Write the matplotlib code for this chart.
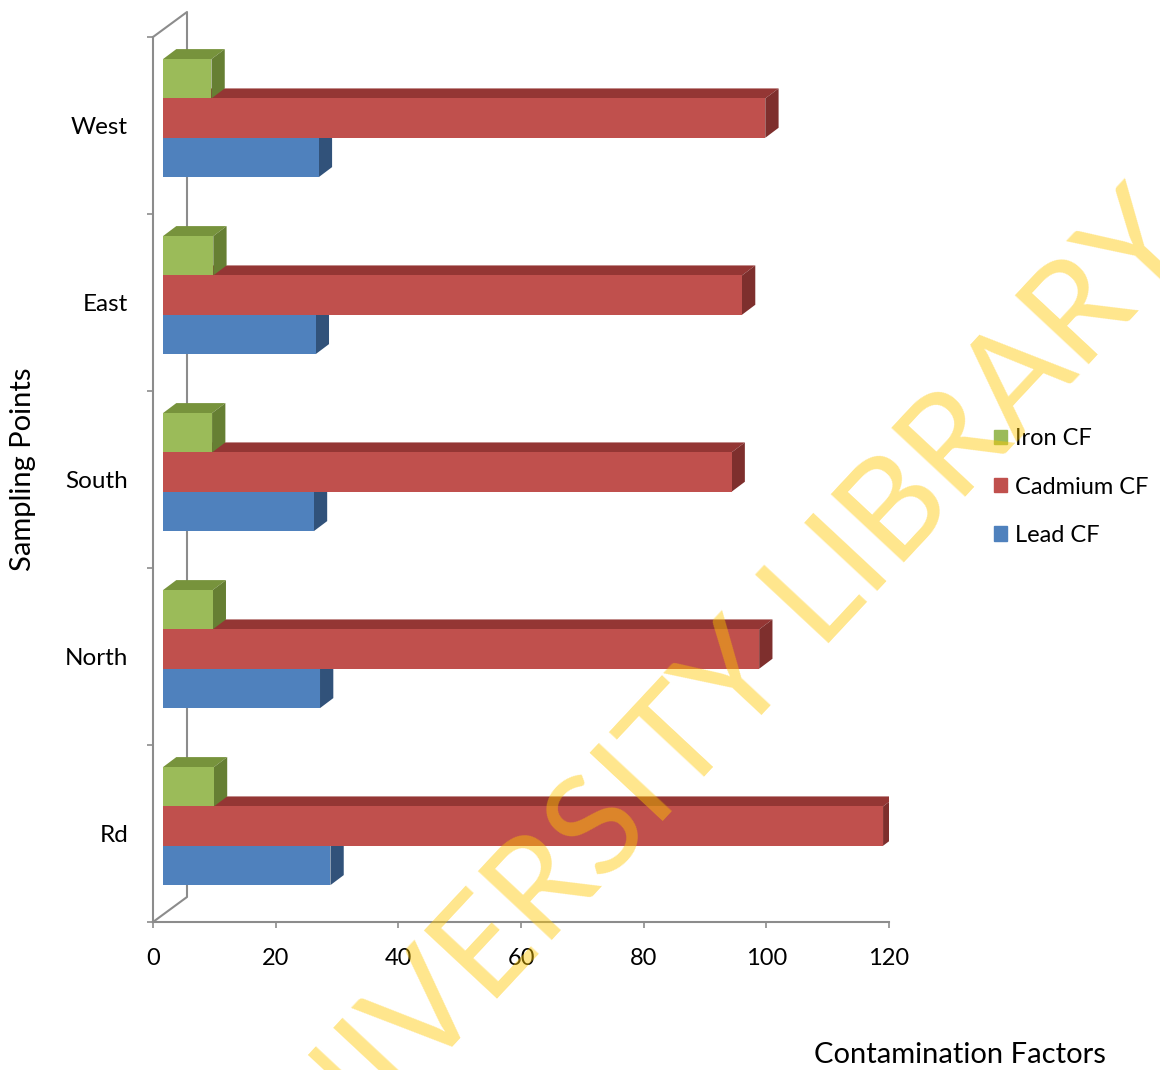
import matplotlib

matplotlib.use("Agg")
import matplotlib.pyplot as plt
from matplotlib.patches import Patch, Polygon

plt.rcParams["font.family"] = ["Lato", "DejaVu Sans"]

# ---- data -------------------------------------------------------------------
sites = ["Rd", "North", "South", "East", "West"]
series = ["Lead CF", "Cadmium CF", "Iron CF"]          # bottom -> top in each group
lead_cf = [27.3, 25.6, 24.6, 24.9, 25.4]
cadmium_cf = [117.4, 97.2, 92.7, 94.4, 98.2]
iron_cf = [8.3, 8.1, 8.0, 8.2, 7.9]
values = [lead_cf, cadmium_cf, iron_cf]

# front / top / side shades for each series
shades = {
    "Lead CF": ("#4F81BD", "#3B6392", "#31527A"),
    "Cadmium CF": ("#C0504D", "#943634", "#7E2F2D"),
    "Iron CF": ("#9BBB59", "#77933C", "#667F33"),
}
AXIS = "#8C8C8C"
XMAX = 120

W, H = 1160, 1070
fig = plt.figure(figsize=(W / 100, H / 100), dpi=100)
ax_l, ax_r, ax_t, ax_b = 153, 889, 37, 922          # front plane of the plot box (px)
ax = fig.add_axes([ax_l / W, 1 - ax_b / H, (ax_r - ax_l) / W, (ax_b - ax_t) / H])
ax.set_xlim(0, XMAX)
ax.set_ylim(0, len(sites))

# pixel -> data unit conversions for the fake depth
ux = XMAX / (ax_r - ax_l)
uy = len(sites) / (ax_b - ax_t)
wall_dx, wall_dy = 34 * ux, 25 * uy                  # depth of the back wall
bar_fx, bar_fy = 10 * ux, 7.4 * uy                   # bar front face sits inside the depth
bar_dx, bar_dy = 13.3 * ux, 10 * uy                  # depth of each bar

# back wall edge
ax.plot([0, wall_dx, wall_dx, 0], [0, wall_dy, len(sites) + wall_dy, len(sites)],
        color=AXIS, lw=1.5, zorder=1, clip_on=False)

h = 1 / 4.5                                          # gap width 150%
for k, (name, vals) in enumerate(zip(series, values)):
    front, top, side = shades[name]
    ys = [i + 0.5 + (k - 1) * h + bar_fy for i in range(len(sites))]
    z = 2 + k * 0.2
    for y, v in zip(ys, vals):
        y0, y1 = y - h / 2, y + h / 2
        x1 = bar_fx + v
        ax.add_patch(Polygon([(bar_fx, y1), (x1, y1), (x1 + bar_dx, y1 + bar_dy),
                              (bar_fx + bar_dx, y1 + bar_dy)],
                             closed=True, fc=top, ec="none", zorder=z))
        ax.add_patch(Polygon([(x1, y0), (x1, y1), (x1 + bar_dx, y1 + bar_dy),
                              (x1 + bar_dx, y0 + bar_dy)],
                             closed=True, fc=side, ec="none", zorder=z))
    ax.barh(ys, vals, left=bar_fx, height=h, color=front, edgecolor="none",
            zorder=z + 0.1, label=name)

# axes styling
for s in ("top", "right"):
    ax.spines[s].set_visible(False)
for s in ("left", "bottom"):
    ax.spines[s].set_color(AXIS)
    ax.spines[s].set_linewidth(1.5)
ax.set_xticks(range(0, XMAX + 1, 20))
ax.tick_params(axis="x", direction="out", length=4, width=1.2, color=AXIS,
               labelsize=17, pad=15)
ax.set_yticks(range(len(sites) + 1))
ax.set_yticks([i + 0.5 for i in range(len(sites))], minor=True)
ax.set_yticklabels(sites, minor=True)
ax.tick_params(axis="y", which="major", direction="out", length=4, width=1.2,
               color=AXIS, labelleft=False)
ax.tick_params(axis="y", which="minor", length=0, labelsize=17.5, pad=18)

ax.set_xlabel("Contamination Factors", fontsize=21)
ax.xaxis.set_label_coords((960 - ax_l) / (ax_r - ax_l), (ax_b - 1042) / (ax_b - ax_t))
ax.set_ylabel("Sampling Points", fontsize=21)
ax.yaxis.set_label_coords((36 - ax_l) / (ax_r - ax_l), (ax_b - 469) / (ax_b - ax_t))

handles = [Patch(color=shades[n][0], label=n) for n in reversed(series)]
ax.legend(handles=handles, loc="upper left", frameon=False, fontsize=17,
          bbox_to_anchor=((985 - ax_l) / (ax_r - ax_l), (ax_b - 419) / (ax_b - ax_t)),
          handlelength=0.55, handleheight=0.55, handletextpad=0.3, labelspacing=1.15,
          borderaxespad=0)

# library stamp across the page
fig.text(728 / W, 1 - 752 / H, "UNIVERSITY LIBRARY", rotation=47, fontsize=100,
         color="#FFC800", alpha=0.45, ha="center", va="baseline",
         rotation_mode="anchor", zorder=10)

fig.savefig("out.png", dpi=100, facecolor="white")
